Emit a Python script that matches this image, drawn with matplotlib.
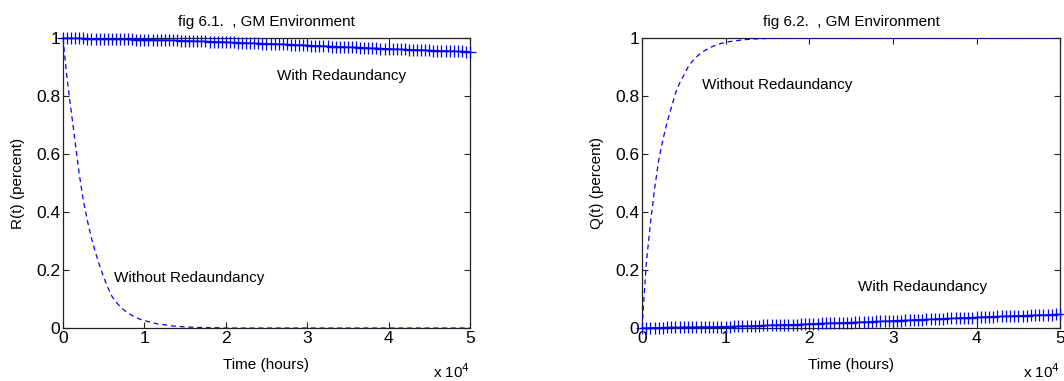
import numpy as np
import matplotlib
matplotlib.use("Agg")
import matplotlib.pyplot as plt
from matplotlib.ticker import FuncFormatter

plt.rcParams["font.family"] = ["Liberation Sans", "DejaVu Sans"]

# time grid, hours (one sample every 500 h)
hours = np.arange(0, 50001, 500)

# reliability with redundancy
r_with = [
    1.000, 1.000, 0.999, 0.999, 0.999, 0.999, 0.998, 0.998, 0.998, 0.998,
    0.997, 0.997, 0.997, 0.997, 0.996, 0.996, 0.996, 0.996, 0.995, 0.995,
    0.995,
    0.995, 0.994, 0.994, 0.993, 0.993, 0.993, 0.992, 0.992, 0.991, 0.991,
    0.990, 0.990, 0.989, 0.989, 0.989, 0.988, 0.988, 0.987, 0.987, 0.986,
    0.985, 0.985, 0.984, 0.984, 0.983, 0.983, 0.982, 0.982, 0.981, 0.981,
    0.980, 0.980, 0.979, 0.979, 0.978, 0.977, 0.977, 0.976, 0.976, 0.975,
    0.974, 0.974, 0.973, 0.973, 0.972, 0.971, 0.971, 0.970, 0.970, 0.969,
    0.968, 0.968, 0.967, 0.967, 0.966, 0.965, 0.965, 0.964, 0.964, 0.963,
    0.962, 0.962, 0.961, 0.961, 0.960, 0.960, 0.959, 0.959, 0.958, 0.958,
    0.957, 0.957, 0.956, 0.956, 0.955, 0.955, 0.954, 0.954, 0.953, 0.953,
]

# reliability without redundancy (first 20000 h, zero after that)
r_without_head = [
    1.000, 0.860, 0.750, 0.640, 0.530, 0.440, 0.370, 0.310, 0.260, 0.215,
    0.175, 0.140, 0.110, 0.090, 0.075, 0.062, 0.052, 0.043, 0.036, 0.030,
    0.026, 0.022, 0.018, 0.015, 0.013, 0.011, 0.009, 0.007, 0.006, 0.005,
    0.004, 0.003, 0.003, 0.002, 0.002, 0.001, 0.001, 0.001, 0.001, 0.000,
]

# unreliability without redundancy (first 20000 h)
q_without_head = [
    0.000, 0.220, 0.360, 0.480, 0.580, 0.650, 0.710, 0.760, 0.810, 0.845,
    0.872, 0.900, 0.920, 0.935, 0.947, 0.957, 0.965, 0.972, 0.977, 0.982,
    0.985, 0.988, 0.990, 0.992, 0.994, 0.995, 0.996, 0.997, 0.998, 0.998,
    0.999, 0.999, 1.000, 1.000, 1.000, 1.000, 1.000, 1.000, 1.000, 1.000,
]

r_without = r_without_head + [0.0] * (len(hours) - len(r_without_head))
q_without = q_without_head + [1.0] * (len(hours) - len(q_without_head))
q_with = [1.0 - v for v in r_with]

BLUE = "#0000ff"
FS = 11
TICK_FS = 12.5


def style_axes(ax, ylabel, title):
    ax.set_xlim(0, 50000)
    ax.set_ylim(0, 1)
    ax.set_xticks(np.arange(0, 50001, 10000))
    ax.set_yticks([0, 0.2, 0.4, 0.6, 0.8, 1])
    ax.xaxis.set_major_formatter(FuncFormatter(lambda v, p: f"{v / 1e4:g}"))
    ax.yaxis.set_major_formatter(FuncFormatter(lambda v, p: f"{v:g}"))
    ax.tick_params(direction="in", length=4, width=0.8, top=True, right=True,
                   labelsize=TICK_FS, pad=2, color="#222222")
    for sp in ax.spines.values():
        sp.set_linewidth(0.9)
        sp.set_color("#222222")
    ax.set_xlabel("Time (hours)", fontsize=FS, labelpad=9)
    ax.set_ylabel(ylabel, fontsize=FS, labelpad=8)
    ax.set_title(title, fontsize=FS, pad=9)
    ax.text(1.0, -0.15, "x 10$^4$", transform=ax.transAxes, fontsize=FS,
            ha="right", va="center")


fig = plt.figure(figsize=(10.64, 3.81), dpi=100)
ax1 = fig.add_axes([0.0592, 0.139, 0.3825, 0.761])
ax2 = fig.add_axes([0.6034, 0.139, 0.3930, 0.761])

# fig 6.1 - reliability
ax1.plot(hours, r_with, color=BLUE, lw=0.9, marker="+", ms=8, mew=0.9,
         clip_on=False, zorder=3)
ax1.plot(hours, r_without, color=BLUE, lw=0.9, ls=(0, (4, 3)), zorder=3)
ax1.text(26250, 0.869, "With Redaundancy", fontsize=FS, va="center")
ax1.text(6300, 0.171, "Without Redaundancy", fontsize=FS, va="center")
style_axes(ax1, "R(t) (percent)", "fig 6.1.  , GM Environment")

# fig 6.2 - unreliability
ax2.plot(hours, q_with, color=BLUE, lw=0.9, marker="+", ms=8, mew=0.9,
         clip_on=False, zorder=3)
ax2.plot(hours, q_without, color=BLUE, lw=0.9, ls=(0, (4, 3)), zorder=3)
ax2.text(7200, 0.838, "Without Redaundancy", fontsize=FS, va="center")
ax2.text(25770, 0.142, "With Redaundancy", fontsize=FS, va="center")
style_axes(ax2, "Q(t) (percent)", "fig 6.2.  , GM Environment")

fig.savefig("out.png", dpi=100)
